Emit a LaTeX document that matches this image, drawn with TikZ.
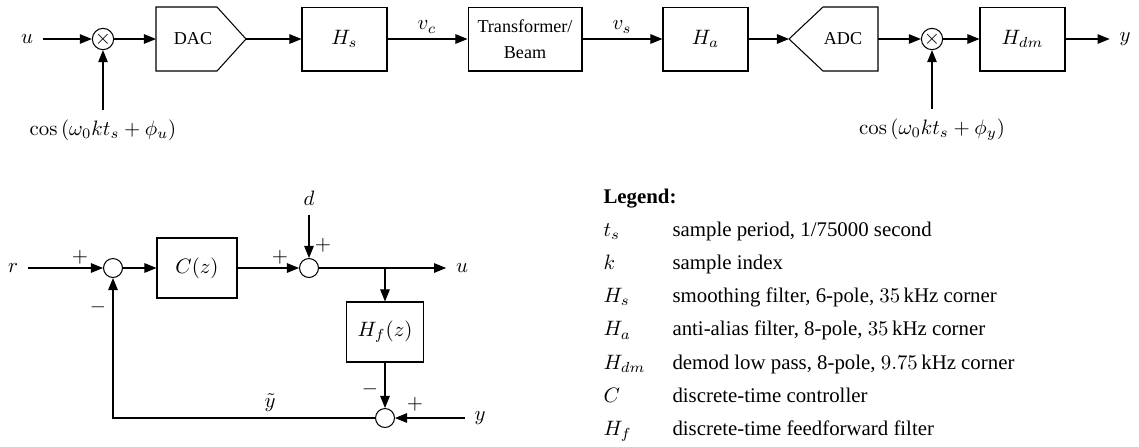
\documentclass[tikz,border=0pt]{standalone}
\usepackage[no-math]{fontspec}
\setmainfont{Liberation Serif}
\usetikzlibrary{arrows.meta}
\begin{document}
\begin{tikzpicture}[x=0.48pt,y=-0.48pt, line width=0.5pt,
  arr/.style={-{Triangle[length=5.8pt,width=4.6pt]}},
  block/.style={draw, minimum width=40.8pt, minimum height=30.7pt, inner sep=0pt},
  mult/.style={draw, circle, minimum size=9.6pt, inner sep=0pt},
  sumc/.style={draw, circle, minimum size=9.1pt, inner sep=0pt},
  lbl/.style={inner sep=4.5pt},
  sgn/.style={inner sep=0pt},
  boxtext/.style={font=\fontsize{8.7}{12.5}\selectfont},
  legsym/.style={anchor=base west, inner sep=0pt},
  legtxt/.style={anchor=base west, inner sep=0pt}]
\useasboundingbox (0,0) rectangle (1139,446);

% ---------------- top row ----------------
\node[lbl] (u) at (27,39) {$u$};
\node[mult] (m1) at (103,39) {$\times$};
\coordinate (dacin) at (156,39);
\coordinate (dacout) at (246,39);
\draw (156,7) -- (217,7) -- (dacout) -- (217,71) -- (156,71) -- cycle;
\node[boxtext] (dac) at (193,39) {DAC};
\node[block] (hs) at (344.5,39) {$H_s$};
\node[block, minimum width=54.7pt, boxtext, align=center] (tb) at (525,39) {Transformer/\\Beam};
\node[block] (ha) at (705.5,39) {$H_a$};
\coordinate (adcin) at (789,39);
\coordinate (adcout) at (878,39);
\draw (adcin) -- (823,7) -- (878,7) -- (adcout) -- (878,71) -- (823,71) -- cycle;
\node[boxtext] (adc) at (843,39) {ADC};
\node[mult] (m2) at (932,39) {$\times$};
\node[block] (hdm) at (1022.5,39) {$H_{dm}$};
\node[lbl] (yout) at (1125,39) {$y$};
\node[lbl] (cu) at (103,130) {$\cos\left(\omega_0 k t_s+\phi_u\right)$};
\node[lbl] (cy) at (932,130) {$\cos\left(\omega_0 k t_s+\phi_y\right)$};
\node (vc) at (427,27) {$v_c$};
\node (vs) at (622,27) {$v_s$};

\draw[arr] (u) -- (m1);
\draw[arr] (m1) -- (dacin);
\draw[arr] (dacout) -- (hs);
\draw[arr] (hs) -- (tb);
\draw[arr] (tb) -- (ha);
\draw[arr] (ha) -- (adcin);
\draw[arr] (adcout) -- (m2);
\draw[arr] (m2) -- (hdm);
\draw[arr] (hdm) -- (yout);
\draw[arr] (cu) -- (m1);
\draw[arr] (cy) -- (m2);

% ---------------- bottom loop ----------------
\node[lbl] (r) at (13,268) {$r$};
\node[sumc] (s1) at (113,268) {};
\node[block, minimum width=38.4pt, minimum height=28.8pt] (C) at (197,268) {$C(z)$};
\node[sumc] (s2) at (309,268) {};
\node[lbl] (d) at (309,198) {$d$};
\coordinate (br) at (385,268);
\node[lbl] (uo) at (462,268) {$u$};
\node[block, minimum width=37.4pt, minimum height=28.8pt] (hf) at (385,332) {$H_f(z)$};
\node[sumc] (s3) at (385,418) {};
\node[lbl] (yi) at (480,418) {$y$};
\node (yt) at (270,403) {$\tilde{y}$};

\draw[arr] (r) -- (s1);
\draw[arr] (s1) -- (C);
\draw[arr] (C) -- (s2);
\draw[arr] (d) -- (s2);
\draw[arr] (s2) -- (uo);
\draw[arr] (br) -- (hf);
\draw[arr] (hf) -- (s3);
\draw[arr] (yi) -- (s3);
\draw[arr] (s3.west) -| (s1.south);

\node[sgn] at (80,257) {$+$};
\node[sgn] at (280,257) {$+$};
\node[sgn] at (323,245) {$+$};
\node[sgn] at (98,307) {$-$};
\node[sgn] at (370,389) {$-$};
\node[sgn] at (415,404) {$+$};

% ---------------- legend ----------------
\node[legtxt] (leg) at (603,203) {\textbf{Legend:}};
\foreach \i/\s/\t in {0/{$t_s$}/{sample period, 1/75000 second},
                      1/{$k$}/{sample index},
                      2/{$H_s$}/{smoothing filter, 6-pole, $35$\,kHz corner},
                      3/{$H_a$}/{anti-alias filter, 8-pole, $35$\,kHz corner},
                      4/{$H_{dm}$}/{demod low pass, 8-pole, $9.75$\,kHz corner},
                      5/{$C$}/{discrete-time controller},
                      6/{$H_f$}/{discrete-time feedforward filter}}{
  \node[legsym] (sym\i) at (603,236+33.3*\i) {\s};
  \node[legtxt] (desc\i) at (672,236+33.3*\i) {\t};
}
\end{tikzpicture}
\end{document}
